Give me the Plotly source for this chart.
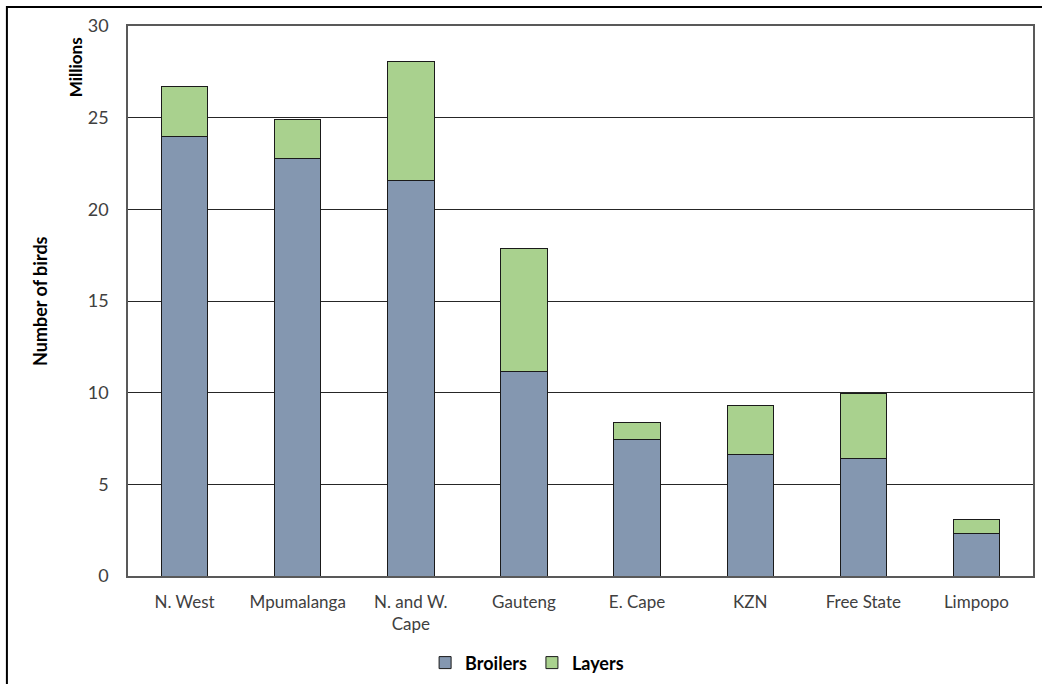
import plotly.graph_objects as go

provinces = ["N. West", "Mpumalanga", "N. and W.<br>Cape", "Gauteng", "E. Cape",
             "KZN", "Free State", "Limpopo"]
broilers = [24.0, 22.8, 21.6, 11.15, 7.45, 6.65, 6.4, 2.3]
layers = [2.7, 2.1, 6.45, 6.7, 0.9, 2.65, 3.55, 0.8]
y_ticks = [0, 5, 10, 15, 20, 25, 30]

FONT = "Lato"
EDGE = dict(color="#1a1a1a", width=1)

fig = go.Figure()
fig.add_trace(go.Bar(x=provinces, y=broilers, name="Broilers",
                     marker=dict(color="#8497B0", line=EDGE)))
fig.add_trace(go.Bar(x=provinces, y=layers, name="Layers",
                     marker=dict(color="#A9D18E", line=EDGE)))

fig.update_layout(
    barmode="stack",
    bargap=0.59,
    width=1042, height=684,
    margin=dict(l=128, r=9, t=26, b=108, autoexpand=False),
    paper_bgcolor="white", plot_bgcolor="white",
    font=dict(family=FONT, size=18, color="#404040"),
    showlegend=True,
    legend=dict(orientation="h", x=0.441, xanchor="center", y=-0.158, yanchor="middle",
                font=dict(family=FONT, size=18, color="black", weight="bold"),
                traceorder="normal", itemwidth=30),
    xaxis=dict(showgrid=False, showline=True, linecolor="#595959", linewidth=1.5,
               mirror=True, ticks="", ticklabelstandoff=10,
               tickfont=dict(size=17, color="#404040")),
    yaxis=dict(range=[0, 30], tickvals=y_ticks, showgrid=True, gridcolor="#262626",
               gridwidth=1, showline=True, linecolor="#595959", linewidth=1.5,
               mirror=True, ticks="", ticklabelstandoff=14,
               tickfont=dict(size=18, color="#404040"), zeroline=False),
    shapes=[dict(type="rect", xref="paper", yref="paper",
                 x0=-0.1338, x1=1.03, y0=-0.22, y1=1.0346,
                 line=dict(color="black", width=2), fillcolor="rgba(0,0,0,0)",
                 layer="below")],
    annotations=[
        dict(text="Millions", xref="paper", yref="paper", x=-0.0586, y=0.925,
             textangle=-90, showarrow=False, xanchor="center", yanchor="middle",
             font=dict(family=FONT, size=17, color="black", weight="bold")),
        dict(text="Number of birds", xref="paper", yref="paper", x=-0.0973, y=0.5,
             textangle=-90, showarrow=False, xanchor="center", yanchor="middle",
             font=dict(family=FONT, size=18, color="black", weight="bold")),
    ],
)

fig.write_html("out.html")
